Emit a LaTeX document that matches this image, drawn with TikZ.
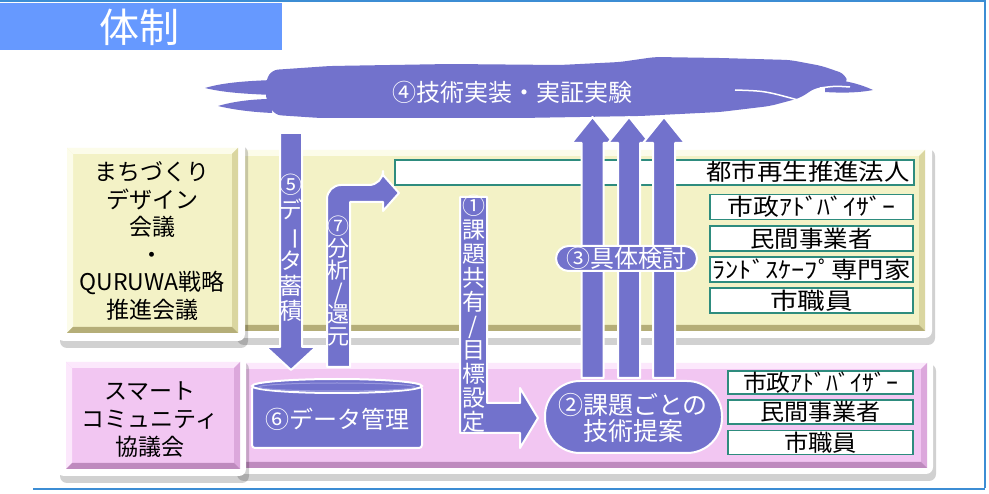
\documentclass[tikz,border=0pt]{standalone}
\usepackage{fontspec}
\setmainfont{Noto Sans CJK JP}
\usepackage{graphicx}
\usetikzlibrary{shadows}
\definecolor{frameblue}{HTML}{3C8DD4}
\definecolor{titleblue}{HTML}{6699FF}
\definecolor{purp}{HTML}{7272CC}
\definecolor{purplight}{HTML}{9A9ADE}
\definecolor{teal2}{HTML}{2E8C7E}
\definecolor{ybase}{HTML}{F3F2C6}
\definecolor{ylight}{HTML}{FCFCEA}
\definecolor{ydark}{HTML}{B5AE78}
\definecolor{yright}{HTML}{DAD6A0}
\definecolor{pbase}{HTML}{F2C6F2}
\definecolor{plight}{HTML}{FCE8FC}
\definecolor{pdark}{HTML}{BE8ABE}
\definecolor{pright}{HTML}{DCA8DC}
\newcommand{\vbar}{\rotatebox[origin=c]{-90}{ー}}
\newcommand{\fitw}[2]{\resizebox{#1}{\height}{#2}}
\newcommand{\bevelbox}[8]{%
  \fill[#5] (#1,#2) rectangle (#3,#4);
  \fill[#6] (#1,#2) -- (#3,#2) -- (#3-6,#2+6) -- (#1+6,#2+6) -- cycle;
  \fill[#6] (#1,#2) -- (#1+6,#2+6) -- (#1+6,#4-6) -- (#1,#4) -- cycle;
  \fill[#8] (#3,#2) -- (#3,#4) -- (#3-6,#4-6) -- (#3-6,#2+6) -- cycle;
  \fill[#7] (#1,#4) -- (#3,#4) -- (#3-6,#4-6) -- (#1+6,#4-6) -- cycle;
}
\tikzset{
  arrowstyle/.style={fill=purp, draw=white, line width=2pt, line join=round},
  membox/.style={draw=teal2, fill=white, line width=1.5pt, inner sep=0pt},
  memtext/.style={font=\fontsize{23}{23}\selectfont, text=black, inner sep=0pt},
  wtext/.style={text=white, inner sep=0pt},
  vtext/.style={text=white, align=center, inner sep=0pt},
  panelframe/.style={fill=white, rounded corners=7,
    drop shadow={shadow xshift=3pt, shadow yshift=-7pt, opacity=0.18, fill=black}},
}
\begin{document}
\begin{tikzpicture}[x=1pt,y=-1pt]
\useasboundingbox[fill=white] (0,0) rectangle (989,494);
% outer frame
\draw[frameblue, line width=2pt] (0,1) -- (985,1) -- (985,488);
\draw[frameblue, line width=2pt] (33,489) -- (985,489);
% title
\fill[titleblue] (0,3) rectangle (282,50);
\node[wtext, font=\fontsize{40}{40}\selectfont] (title) at (139,27) {体制};

% yellow panel
\path[panelframe] (234,142) rectangle (932,338);
\bevelbox{238}{150}{925}{331}{ybase}{ylight}{ydark}{yright}
\path[panelframe] (57,139) rectangle (245,341);
\bevelbox{67}{148}{238}{333}{ybase}{ylight}{ydark}{yright}
% pink panel
\path[panelframe] (234,357) rectangle (933,474);
\bevelbox{238}{363}{927}{468}{pbase}{plight}{pdark}{pright}
\path[panelframe] (57,355) rectangle (246,476);
\bevelbox{66}{362}{240}{469}{pbase}{plight}{pdark}{pright}

% left texts
\node[font=\fontsize{23}{27.6}\selectfont, align=center, inner sep=0pt] (mdc) at (152,241)
  {まちづくり\\デザイン\\会議\\・\\QURUWA戦略\\推進会議};
\node[font=\fontsize{23}{28}\selectfont, align=center, inner sep=0pt] (smart) at (150,420)
  {スマート\\コミュニティ\\協議会};

% member boxes (upper)
\node[membox, minimum width=519pt, minimum height=25pt] (longbox) at (654.5,172.5) {};
\node[memtext] (m0) at (808,172) {\fitw{203pt}{都市再生推進法人}};
\node[membox, minimum width=203pt, minimum height=25pt] (u1) at (811.5,207) {};
\node[memtext] at (u1) {\fitw{168pt}{市政ｱﾄﾞﾊﾞｲｻﾞｰ}};
\node[membox, minimum width=203pt, minimum height=25pt] (u2) at (811.5,238.5) {};
\node[memtext] at (u2) {\fitw{122pt}{民間事業者}};
\node[membox, minimum width=203pt, minimum height=25pt] (u3) at (811.5,269.5) {};
\node[memtext] at (u3) {\fitw{198pt}{ﾗﾝﾄﾞｽｹｰﾌﾟ専門家}};
\node[membox, minimum width=203pt, minimum height=25pt] (u4) at (811.5,300.5) {};
\node[memtext] at (u4) {\fitw{83pt}{市職員}};
% member boxes (lower)
\node[membox, minimum width=185pt, minimum height=23pt] (l1) at (820.5,382.5) {};
\node[memtext] at (l1) {\fitw{155pt}{市政ｱﾄﾞﾊﾞｲｻﾞｰ}};
\node[membox, minimum width=185pt, minimum height=24pt] (l2) at (820.5,412) {};
\node[memtext] at (l2) {\fitw{120pt}{民間事業者}};
\node[membox, minimum width=185pt, minimum height=24pt] (l3) at (820.5,442.5) {};
\node[memtext] at (l3) {\fitw{73pt}{市職員}};

% cloud: main body
\fill[purp, rounded corners=6pt] (266,80) -- (272,70) -- (330,66) -- (450,64) -- (560,65)
  -- (620,62) -- (655,57) -- (720,58) -- (790,60) -- (822,66) -- (845,74) -- (848,84)
  -- (815,88) -- (800,98) -- (770,106) -- (720,112) -- (640,116) -- (520,118)
  -- (400,118) -- (320,118) -- (275,115) -- (266,100) -- cycle;
% cloud: wisps
\fill[purp] (205,88) .. controls (225,82) and (250,81) .. (272,80) -- (272,95)
  .. controls (250,94) and (225,93) .. (205,88) -- cycle;
\fill[purp] (218,106) .. controls (235,101) and (255,99) .. (272,99) -- (272,113)
  .. controls (252,112) and (235,110) .. (218,106) -- cycle;
\fill[purp] (825,79) .. controls (845,80) and (860,84) .. (873,90)
  .. controls (858,93) and (840,93) .. (825,92) -- cycle;
\draw[white, line width=1.5pt] (735,90) .. controls (765,91) .. (798,100);
\draw[white, line width=1.5pt] (820,88) .. controls (835,86) .. (850,87);
\node[wtext, font=\fontsize{24}{24}\selectfont] (cloud) at (512,92) {④技術実装・実証実験};

% arrow 5 (down)
\filldraw[arrowstyle] (280,133) -- (302,133) -- (302,347) -- (316,347) -- (291,370)
  -- (266,347) -- (280,347) -- cycle;
\node[vtext, font=\fontsize{23}{25}\selectfont] (t5) at (291,248)
  {⑤\\デ\\\vbar\\タ\\蓄\\積};
% arrow 7 (up then right)
\filldraw[arrowstyle] (327,367) {[rounded corners=14] -- (327,185) -- (383,185)}
  -- (383,175) -- (399,193) -- (383,211) -- (383,202) -- (350,202) -- (350,367) -- cycle;
\node[vtext, font=\fontsize{22}{22}\selectfont] (t7) at (338.5,281)
  {⑦\\分\\析\\/\\還\\元};
% arrow 1 (down then right)
\filldraw[arrowstyle] (460,197) -- (487,197) -- (487,403) -- (520,403) -- (520,388)
  -- (538,418) -- (520,448) -- (520,433) -- (460,433) -- cycle;
\node[vtext, font=\fontsize{23}{24}\selectfont] (t1) at (473.5,314)
  {①\\課\\題\\共\\有\\/\\目\\標\\設\\定};
% arrows 3 (three up)
\foreach \c in {592.5,629,664} {
  \filldraw[arrowstyle] (\c-11,378) -- (\c-11,143) -- (\c-21,143) -- (\c,117)
    -- (\c+21,143) -- (\c+11,143) -- (\c+11,378) -- cycle;
}
% pill 3
\filldraw[fill=purp, draw=white, line width=2pt, rounded corners=12.5pt] (556,246) rectangle (697,271);
\node[wtext, font=\fontsize{24}{24}\selectfont] (t3) at (626.5,258.5) {③具体検討};
% stadium 2
\filldraw[fill=purp, draw=white, line width=2pt, rounded corners=35pt] (545,381) rectangle (722,453);
\node[wtext, font=\fontsize{25}{26}\selectfont, align=center] (t2) at (633,418) {②課題ごとの\\技術提案};
% cylinder 6
\filldraw[fill=purp, draw=white, line width=2pt, rounded corners=3pt] (252,386) rectangle (422,448);
\filldraw[fill=purp, draw=white, line width=2pt] (337,386) ellipse [x radius=85, y radius=7];
\draw[purplight, line width=1pt] (337,387) ellipse [x radius=78, y radius=4];
\node[wtext, font=\fontsize{24}{24}\selectfont] (t6) at (337,419) {⑥データ管理};
\end{tikzpicture}
\end{document}
